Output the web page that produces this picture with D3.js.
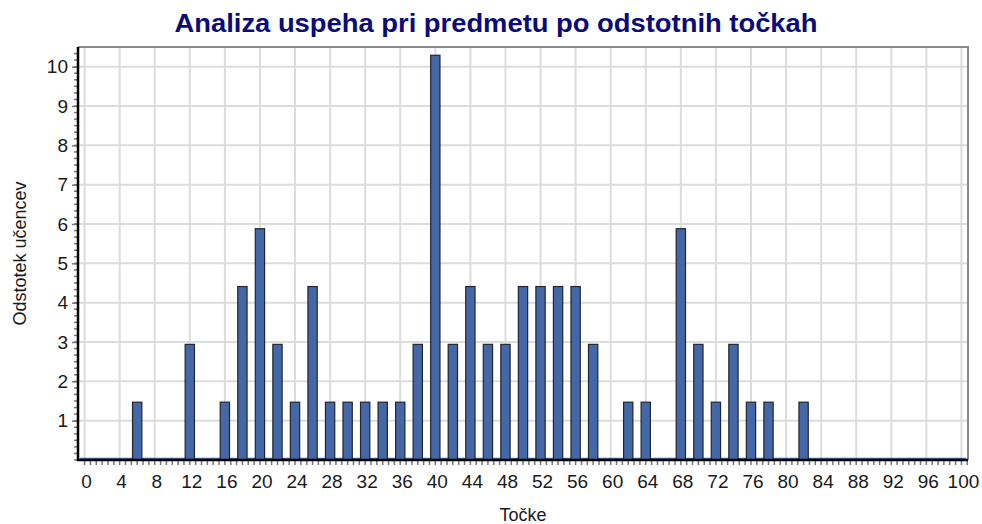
<!DOCTYPE html>
<html><head><meta charset="utf-8">
<script src="https://cdn.jsdelivr.net/npm/d3@7"></script>
<style>html,body{margin:0;padding:0;background:#fff;}svg{display:block;}</style>
</head><body>
<script>
const titleText = "Analiza uspeha pri predmetu po odstotnih točkah";
const xTitle = "Točke";
const yTitle = "Odstotek učencev";
// points (even values 0..100)
const points = [0,2,4,6,8,10,12,14,16,18,20,22,24,26,28,30,32,34,36,38,40,42,44,46,48,50,52,54,56,58,60,62,64,66,68,70,72,74,76,78,80,82,84,86,88,90,92,94,96,98,100];
const percents = [0,0,0,1.47,0,0,2.94,0,1.47,4.41,5.88,2.94,1.47,4.41,1.47,1.47,1.47,1.47,1.47,2.94,10.29,2.94,4.41,2.94,2.94,4.41,4.41,4.41,4.41,2.94,0,1.47,1.47,0,5.88,2.94,1.47,2.94,1.47,1.47,0,1.47,0,0,0,0,0,0,0,0,0];
const xTickValues = [0,4,8,12,16,20,24,28,32,36,40,44,48,52,56,60,64,68,72,76,80,84,88,92,96,100];
const yTickValues = [1,2,3,4,5,6,7,8,9,10];

const W = 982, H = 524;
const m = {left: 78, right: 14, top: 47, bottom: 64};
const svg = d3.select("body").append("svg").attr("width", W).attr("height", H);
const x = d3.scaleLinear().domain([-0.75, 100.75]).range([m.left, W - m.right]);
const y = d3.scaleLinear().domain([0, 10.5]).range([H - m.bottom, m.top]);
const font = "Liberation Sans, Arial, sans-serif";

// gridlines
const g = svg.append("g");
g.selectAll(".vg").data(xTickValues).enter().append("line")
  .attr("x1", d => x(d)).attr("x2", d => x(d))
  .attr("y1", y.range()[1]).attr("y2", y.range()[0])
  .attr("stroke", "#dcdcdc").attr("stroke-width", 2);
g.selectAll(".hg").data(yTickValues).enter().append("line")
  .attr("x1", x.range()[0]).attr("x2", x.range()[1])
  .attr("y1", d => y(d)).attr("y2", d => y(d))
  .attr("stroke", "#dcdcdc").attr("stroke-width", 2);

// frame top/right
svg.append("path")
  .attr("d", `M${x.range()[0]},${y.range()[1]}H${x.range()[1]}V${y.range()[0]}`)
  .attr("fill", "none").attr("stroke", "#8a8a8a").attr("stroke-width", 2);

// bars
const bw = x(1.06) - x(0);
svg.append("line")
  .attr("x1", x(0) - bw / 2).attr("x2", x(100) + bw / 2)
  .attr("y1", y(0) - 1.5).attr("y2", y(0) - 1.5)
  .attr("stroke", "#4467a8").attr("stroke-width", 1.5);
svg.selectAll(".bar").data(points.map((p, i) => ({p, v: percents[i]})).filter(d => d.v > 0))
  .enter().append("rect")
  .attr("x", d => x(d.p) - bw / 2).attr("width", bw)
  .attr("y", d => y(d.v)).attr("height", d => y(0) - y(d.v))
  .attr("fill", "#4467a8").attr("stroke", "#22262e").attr("stroke-width", 1.2);

// x axis
const xAxis = d3.axisBottom(x).tickValues(xTickValues).tickSize(0).tickPadding(15);
const xg = svg.append("g").attr("transform", `translate(0,${y(0)})`).call(xAxis);
xg.select(".domain").remove();
xg.selectAll("text").attr("font-family", font).attr("font-size", 19).attr("fill", "#1a1a1a")
  .attr("dx", 1.5);
const xMinor = d3.range(0, 101, 2 / 3);
svg.append("g").selectAll("line").data(xMinor).enter().append("line")
  .attr("x1", d => x(d)).attr("x2", d => x(d))
  .attr("y1", y(0)).attr("y2", y(0) + 5)
  .attr("stroke", "#777").attr("stroke-width", 1.5);

// y axis
const yAxis = d3.axisLeft(y).tickValues(yTickValues).tickSize(6).tickPadding(4);
const yg = svg.append("g").attr("transform", `translate(${x.range()[0]},0)`).call(yAxis);
yg.select(".domain").remove();
yg.selectAll(".tick line").attr("stroke", "#777").attr("stroke-width", 1.5);
yg.selectAll("text").attr("font-family", font).attr("font-size", 19).attr("fill", "#1a1a1a");
const yMinor = d3.range(0, 10.5, 1 / 6);
svg.append("g").selectAll("line").data(yMinor).enter().append("line")
  .attr("x1", x.range()[0] - 4).attr("x2", x.range()[0])
  .attr("y1", d => y(d)).attr("y2", d => y(d))
  .attr("stroke", "#777").attr("stroke-width", 1.5);

// axis lines
svg.append("path")
  .attr("d", `M${x.range()[0]},${y.range()[1]}V${y(0)}H${x.range()[1]}`)
  .attr("fill", "none").attr("stroke", "#000").attr("stroke-width", 2.5);

// titles
svg.append("text").attr("x", 496).attr("y", 32).attr("text-anchor", "middle")
  .attr("font-family", font).attr("font-weight", "bold").attr("font-size", 25)
  .attr("textLength", 643).attr("lengthAdjust", "spacingAndGlyphs")
  .attr("fill", "#0a0a78").text(titleText);
svg.append("text").attr("x", (x.range()[0] + x.range()[1]) / 2).attr("y", 521).attr("text-anchor", "middle")
  .attr("font-family", font).attr("font-size", 18).attr("fill", "#1a1a1a").text(xTitle);
svg.append("text").attr("transform", `translate(26,${(y.range()[0] + y.range()[1]) / 2}) rotate(-90)`)
  .attr("text-anchor", "middle")
  .attr("font-family", font).attr("font-size", 18).attr("fill", "#1a1a1a").text(yTitle);
</script>
</body></html>
